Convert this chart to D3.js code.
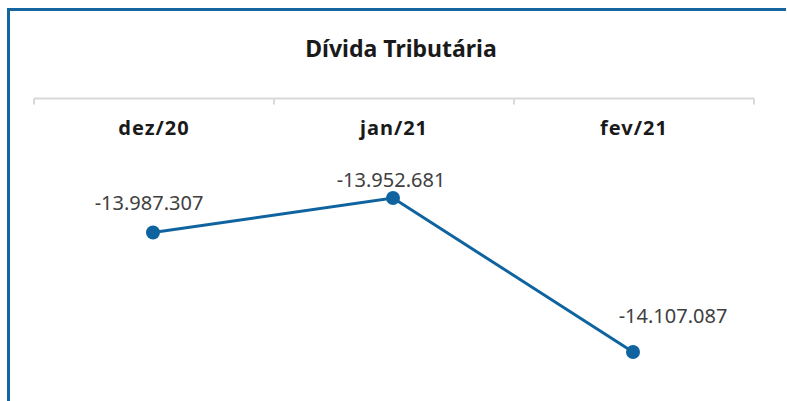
<!DOCTYPE html>
<html>
<head>
<meta charset="utf-8">
<script src="https://cdn.jsdelivr.net/npm/d3@7"></script>
<style>
  body { margin: 0; background: #fff; }
  svg { display: block; }
</style>
</head>
<body>
<div id="chart"></div>
<script>
var categories = ["dez/20", "jan/21", "fev/21"];
var values = [-13987307, -13952681, -14107087];
var title = "Dívida Tributária";

var width = 787, height = 401;
var font = "'Century Gothic', 'Noto Sans', sans-serif";
var lineColor = "#0f64a0";

var svg = d3.select("#chart").append("svg")
    .attr("width", width)
    .attr("height", height);

// frame
svg.append("path")
    .attr("d", "M8.5,401 V9.5 H786")
    .attr("fill", "none")
    .attr("stroke", "#1565a0")
    .attr("stroke-width", 3);

svg.append("text")
    .attr("x", 401)
    .attr("y", 57)
    .attr("text-anchor", "middle")
    .attr("font-family", font)
    .attr("font-weight", "bold")
    .attr("font-size", 23)
    .attr("fill", "#1a1a1a")
    .text(title);

var x = d3.scaleBand()
    .domain(categories)
    .range([34, 754]);

var y = d3.scaleLinear()
    .domain(d3.extent(values))
    .range([352, 198]);

// category axis on top, labels below the line
var axis = svg.append("g")
    .attr("transform", "translate(0,98.5)")
    .call(d3.axisBottom(x).tickSize(0).tickPadding(0));
axis.select(".domain").remove();
axis.selectAll("text")
    .attr("dy", null)
    .attr("y", 36)
    .attr("font-family", font)
    .attr("font-weight", "bold")
    .attr("font-size", 20)
    .attr("letter-spacing", 1)
    .attr("fill", "#1a1a1a");

axis.append("line")
    .attr("x1", 34).attr("x2", 754)
    .attr("stroke", "#d9d9d9")
    .attr("stroke-width", 2);
axis.selectAll(".sep")
    .data([34].concat(categories.map(function (c) { return x(c) + x.bandwidth(); })))
    .enter().append("line")
    .attr("class", "sep")
    .attr("x1", function (d) { return d; })
    .attr("x2", function (d) { return d; })
    .attr("y1", 0).attr("y2", 6)
    .attr("stroke", "#d9d9d9")
    .attr("stroke-width", 2);

var data = categories.map(function (c, i) { return { cat: c, v: values[i] }; });
var cx = function (d) { return x(d.cat) + x.bandwidth() / 2 - 1; };

svg.append("path")
    .datum(data)
    .attr("fill", "none")
    .attr("stroke", lineColor)
    .attr("stroke-width", 3)
    .attr("d", d3.line().x(cx).y(function (d) { return y(d.v); }));

svg.selectAll(".pt")
    .data(data)
    .enter().append("circle")
    .attr("class", "pt")
    .attr("cx", cx)
    .attr("cy", function (d) { return y(d.v); })
    .attr("r", 7)
    .attr("fill", lineColor);

var fmt = function (v) {
    return "-" + d3.format(",")(Math.abs(v)).replace(/,/g, ".");
};

// label placement relative to each point (dx, dy)
var labelShift = [[-4, -23], [-2, -11], [40, -29]];

svg.selectAll(".lbl")
    .data(data)
    .enter().append("text")
    .attr("class", "lbl")
    .attr("x", function (d, i) { return cx(d) + labelShift[i][0]; })
    .attr("y", function (d, i) { return y(d.v) + labelShift[i][1]; })
    .attr("text-anchor", "middle")
    .attr("font-family", font)
    .attr("font-size", 20)
    .attr("fill", "#404040")
    .text(function (d) { return fmt(d.v); });
</script>
</body>
</html>
